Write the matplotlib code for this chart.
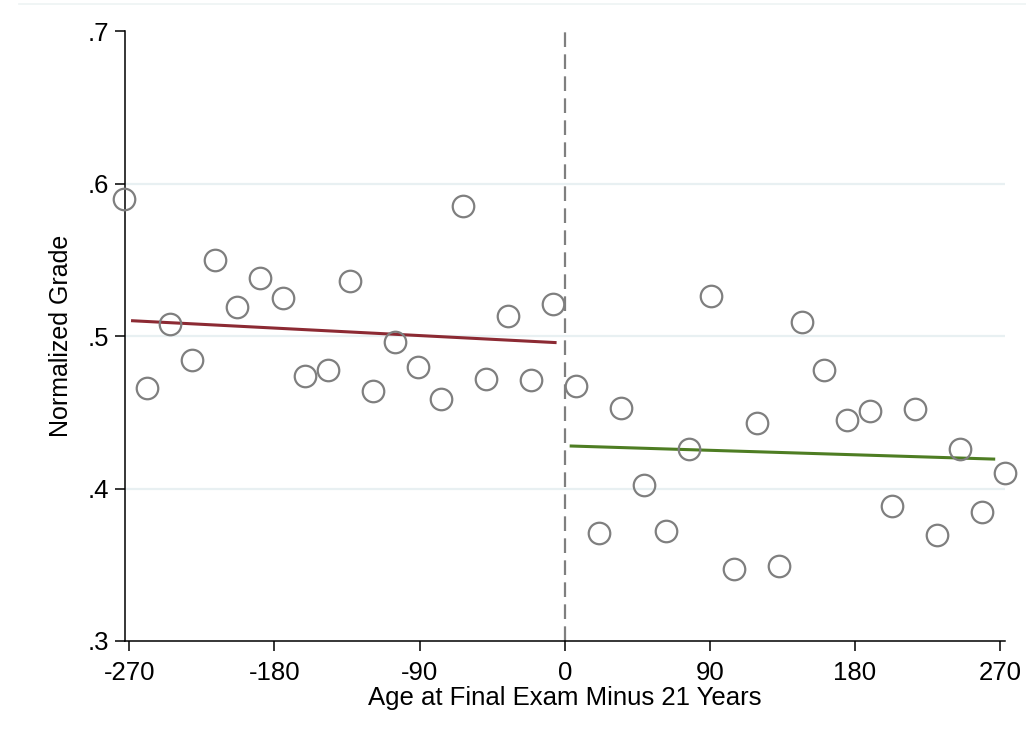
import numpy as np
import matplotlib
matplotlib.use("Agg")
import matplotlib.pyplot as plt
from matplotlib.lines import Line2D

plt.rcParams['font.family'] = ['Liberation Sans', 'DejaVu Sans']

# binned means, 14-day bins
left_x = [-273, -259, -245, -231, -217, -203, -189, -175, -161, -147,
          -133, -119, -105, -91, -77, -63, -49, -35, -21, -7]
left_y = [0.590, 0.466, 0.508, 0.484, 0.550, 0.519, 0.538, 0.525, 0.474, 0.478,
          0.536, 0.464, 0.496, 0.480, 0.459, 0.585, 0.472, 0.513, 0.471, 0.521]
right_x = [7, 21, 35, 49, 63, 77, 91, 105, 119, 133,
           147, 161, 175, 189, 203, 217, 231, 245, 259, 273]
right_y = [0.467, 0.371, 0.453, 0.4025, 0.372, 0.426, 0.526, 0.347, 0.443, 0.349,
           0.509, 0.478, 0.445, 0.451, 0.3885, 0.452, 0.3695, 0.426, 0.3846, 0.410]

# linear fits (intercept, slope) and their ranges
fit_left = (0.4954, -5.46e-5)
fit_left_range = [-268, -6]
fit_right = (0.4280, -3.27e-5)
fit_right_range = [4, 266]

xticks = [-270, -180, -90, 0, 90, 180, 270]
yticks = [0.3, 0.4, 0.5, 0.6, 0.7]
ytick_labels = ['.3', '.4', '.5', '.6', '.7']

fig = plt.figure(figsize=(10.26, 7.41), dpi=100)
ax = fig.add_axes([0.1215, 0.135, 0.858, 0.823])

grid_col = '#e8f0f2'
for yv in yticks[1:-1]:
    ax.axhline(yv, color=grid_col, lw=1.6, zorder=0)

ax.axvline(0, color='#7f7f7f', lw=1.6, dashes=(6.6, 3.3), zorder=1)

ax.plot(left_x, left_y, 'o', mfc='none', mec='#7f7f7f', ms=15.5, mew=1.6,
        zorder=3, clip_on=False)
ax.plot(right_x, right_y, 'o', mfc='none', mec='#7f7f7f', ms=15.5, mew=1.6,
        zorder=3, clip_on=False)

xl = np.array(fit_left_range)
ax.plot(xl, fit_left[0] + fit_left[1] * xl, color='#8c2a33', lw=2.2, zorder=2)
xr = np.array(fit_right_range)
ax.plot(xr, fit_right[0] + fit_right[1] * xr, color='#4e7d23', lw=2.2, zorder=2)

ax.set_xlim(-272.9, 273)
ax.set_ylim(0.3, 0.7)
ax.set_xticks(xticks)
ax.set_xticklabels([str(v) for v in xticks])
ax.set_yticks(yticks)
ax.set_yticklabels(ytick_labels)

for s in ['top', 'right']:
    ax.spines[s].set_visible(False)
for s in ['left', 'bottom']:
    ax.spines[s].set_linewidth(1.1)
ax.tick_params(direction='out', length=7.5, width=1.1, labelsize=18.5, pad=4)
ax.tick_params(axis='x', pad=7)

ax.set_xlabel('Age at Final Exam Minus 21 Years', fontsize=18.5, labelpad=1)
ax.set_ylabel('Normalized Grade', fontsize=18, labelpad=10)

# faint outer frame line at the top
fig.add_artist(Line2D([0.019, 1.0], [1 - 4.3 / 741, 1 - 4.3 / 741],
                      transform=fig.transFigure, color='#edf3f3', lw=1.2))

fig.savefig('out.png', dpi=100)
